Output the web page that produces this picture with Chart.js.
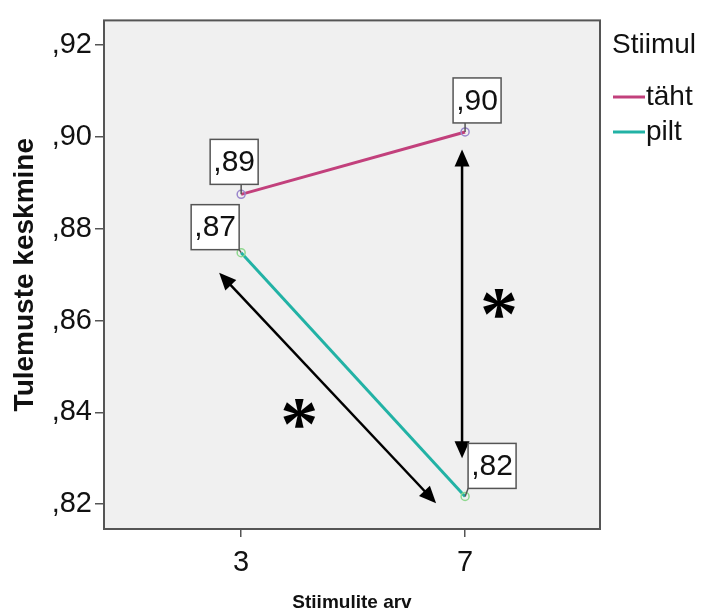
<!DOCTYPE html>
<html>
<head>
<meta charset="utf-8">
<script src="https://cdn.jsdelivr.net/npm/chart.js@4.4.0/dist/chart.umd.min.js"></script>
<style>
    body { margin: 0; background: #fff; }
    #wrap { width: 708px; height: 610px; }
</style>
</head>
<body>
<div id="wrap"><canvas id="chart" width="708" height="610"></canvas></div>
<script>
// Stiimulite arv vs tulemuste keskmine
const xValues = [3, 7];
const tahtValues = [0.8875, 0.9011];
const piltValues = [0.8748, 0.8217];
const seriesNames = ['täht', 'pilt'];
const yTickValues = [0.82, 0.84, 0.86, 0.88, 0.90, 0.92];

// annotations, in data units
const arrows = [
    { from: [6.946, 0.8973], to: [6.946, 0.8300] },
    { from: [2.607, 0.8704], to: [6.482, 0.8202] }
];
const stars = [[7.607, 0.8637], [4.036, 0.8397]];

const FONT = '"Liberation Sans", Arial, sans-serif';
const TAHT = '#c2407c';
const PILT = '#22b2a5';
const FRAME = '#555';

const fmt = v => ',' + v.toFixed(2).split('.')[1];

// box offsets (left/top of the label box relative to the point)
const labelOffsets = [
    [[-31, -55], [-12, -54]],
    [[-50, -48], [3, -53]]
];

function drawArrowHead(ctx, x, y, ang) {
    const len = 17, half = 7.5;
    ctx.beginPath();
    ctx.moveTo(x, y);
    ctx.lineTo(x - len * Math.cos(ang) + half * Math.sin(ang), y - len * Math.sin(ang) - half * Math.cos(ang));
    ctx.lineTo(x - len * Math.cos(ang) - half * Math.sin(ang), y - len * Math.sin(ang) + half * Math.cos(ang));
    ctx.closePath();
    ctx.fill();
}

const decor = {
    id: 'decor',
    beforeDraw(chart) {
        const { ctx, chartArea: a } = chart;
        ctx.save();
        ctx.fillStyle = '#f0f0f0';
        ctx.fillRect(a.left, a.top, a.right - a.left, a.bottom - a.top);
        ctx.restore();
    },
    afterDatasetsDraw(chart) {
        const { ctx, chartArea: a, scales: { x, y } } = chart;
        ctx.save();

        // frame
        ctx.strokeStyle = FRAME;
        ctx.lineWidth = 2;
        ctx.strokeRect(a.left, a.top, a.right - a.left, a.bottom - a.top);

        // arrows
        ctx.strokeStyle = '#000';
        ctx.fillStyle = '#000';
        ctx.lineWidth = 2.5;
        arrows.forEach(ar => {
            const x1 = x.getPixelForValue(ar.from[0]), y1 = y.getPixelForValue(ar.from[1]);
            const x2 = x.getPixelForValue(ar.to[0]), y2 = y.getPixelForValue(ar.to[1]);
            const ang = Math.atan2(y2 - y1, x2 - x1);
            ctx.beginPath();
            ctx.moveTo(x1 + 10 * Math.cos(ang), y1 + 10 * Math.sin(ang));
            ctx.lineTo(x2 - 10 * Math.cos(ang), y2 - 10 * Math.sin(ang));
            ctx.stroke();
            drawArrowHead(ctx, x2, y2, ang);
            drawArrowHead(ctx, x1, y1, ang + Math.PI);
        });

        // asterisks
        ctx.font = 'bold 76px "Liberation Serif", "Times New Roman", serif';
        ctx.textAlign = 'left';
        ctx.textBaseline = 'alphabetic';
        const m = ctx.measureText('*');
        stars.forEach(s => {
            const px = x.getPixelForValue(s[0]), py = y.getPixelForValue(s[1]);
            const w = m.actualBoundingBoxRight + m.actualBoundingBoxLeft;
            const h = m.actualBoundingBoxAscent + m.actualBoundingBoxDescent;
            ctx.fillText('*', px - w / 2 + m.actualBoundingBoxLeft, py - h / 2 + m.actualBoundingBoxAscent);
        });

        // value labels
        ctx.font = '30px ' + FONT;
        ctx.textAlign = 'center';
        ctx.textBaseline = 'middle';
        chart.data.datasets.forEach((ds, di) => {
            const meta = chart.getDatasetMeta(di);
            meta.data.forEach((pt, i) => {
                const bw = 48, bh = 45;
                const bx = pt.x + labelOffsets[di][i][0], by = pt.y + labelOffsets[di][i][1];
                const cx = Math.min(Math.max(pt.x, bx), bx + bw);
                const cy = Math.min(Math.max(pt.y, by), by + bh);
                ctx.strokeStyle = FRAME;
                ctx.lineWidth = 1.5;
                ctx.beginPath();
                ctx.moveTo(cx, cy);
                ctx.lineTo(pt.x, pt.y);
                ctx.stroke();
                ctx.fillStyle = '#fff';
                ctx.fillRect(bx, by, bw, bh);
                ctx.strokeRect(bx, by, bw, bh);
                ctx.fillStyle = '#111';
                ctx.fillText(fmt(ds.data[i].y), bx + bw / 2, by + bh / 2 + 1);
            });
        });

        // legend
        ctx.textAlign = 'left';
        ctx.font = '28px ' + FONT;
        ctx.fillStyle = '#111';
        ctx.fillText('Stiimul', 612, 45);
        [[TAHT, 97], [PILT, 132]].forEach((it, i) => {
            ctx.strokeStyle = it[0];
            ctx.lineWidth = 3;
            ctx.beginPath();
            ctx.moveTo(613, it[1]);
            ctx.lineTo(645, it[1]);
            ctx.stroke();
            ctx.fillStyle = '#111';
            ctx.fillText(seriesNames[i], 646, it[1]);
        });
        ctx.restore();
    }
};

new Chart(document.getElementById('chart'), {
    type: 'line',
    data: {
        datasets: [
            {
                label: seriesNames[0],
                data: xValues.map((v, i) => ({ x: v, y: tahtValues[i] })),
                borderColor: TAHT,
                borderWidth: 3,
                pointRadius: 4,
                pointBorderWidth: 1.5,
                pointBorderColor: '#9a86cc',
                pointBackgroundColor: 'rgba(0,0,0,0)'
            },
            {
                label: seriesNames[1],
                data: xValues.map((v, i) => ({ x: v, y: piltValues[i] })),
                borderColor: PILT,
                borderWidth: 3,
                pointRadius: 4,
                pointBorderWidth: 1.5,
                pointBorderColor: '#8fd88f',
                pointBackgroundColor: 'rgba(0,0,0,0)'
            }
        ]
    },
    options: {
        responsive: false,
        animation: false,
        layout: { padding: { left: 0, top: 17, right: 108, bottom: 0 } },
        plugins: {
            legend: { display: false },
            tooltip: { enabled: false }
        },
        scales: {
            x: {
                type: 'linear',
                min: 0.55,
                max: 9.41,
                afterBuildTicks: s => { s.ticks = xValues.map(v => ({ value: v })); },
                afterFit: s => { s.height = 81; },
                border: { display: false },
                grid: { drawOnChartArea: false, drawTicks: true, tickLength: 8, color: FRAME, lineWidth: 1.5 },
                ticks: { color: '#111', padding: 9, font: { family: FONT, size: 29 }, maxRotation: 0 },
                title: {
                    display: true,
                    text: 'Stiimulite arv',
                    color: '#111',
                    padding: { top: 0, bottom: -4 },
                    font: { family: FONT, size: 19, weight: 'bold' }
                }
            },
            y: {
                min: 0.8146,
                max: 0.9254,
                afterBuildTicks: s => { s.ticks = yTickValues.map(v => ({ value: v })); },
                afterFit: s => { s.width = 104; },
                border: { display: false },
                grid: { drawOnChartArea: false, drawTicks: true, tickLength: 9, color: FRAME, lineWidth: 1.5 },
                ticks: { color: '#111', padding: 3, font: { family: FONT, size: 29 }, callback: v => fmt(v) },
                title: {
                    display: true,
                    text: 'Tulemuste keskmine',
                    color: '#111',
                    padding: { top: 8, bottom: 0 },
                    font: { family: FONT, size: 28, weight: 'bold' }
                }
            }
        }
    },
    plugins: [decor]
});
</script>
</body>
</html>
